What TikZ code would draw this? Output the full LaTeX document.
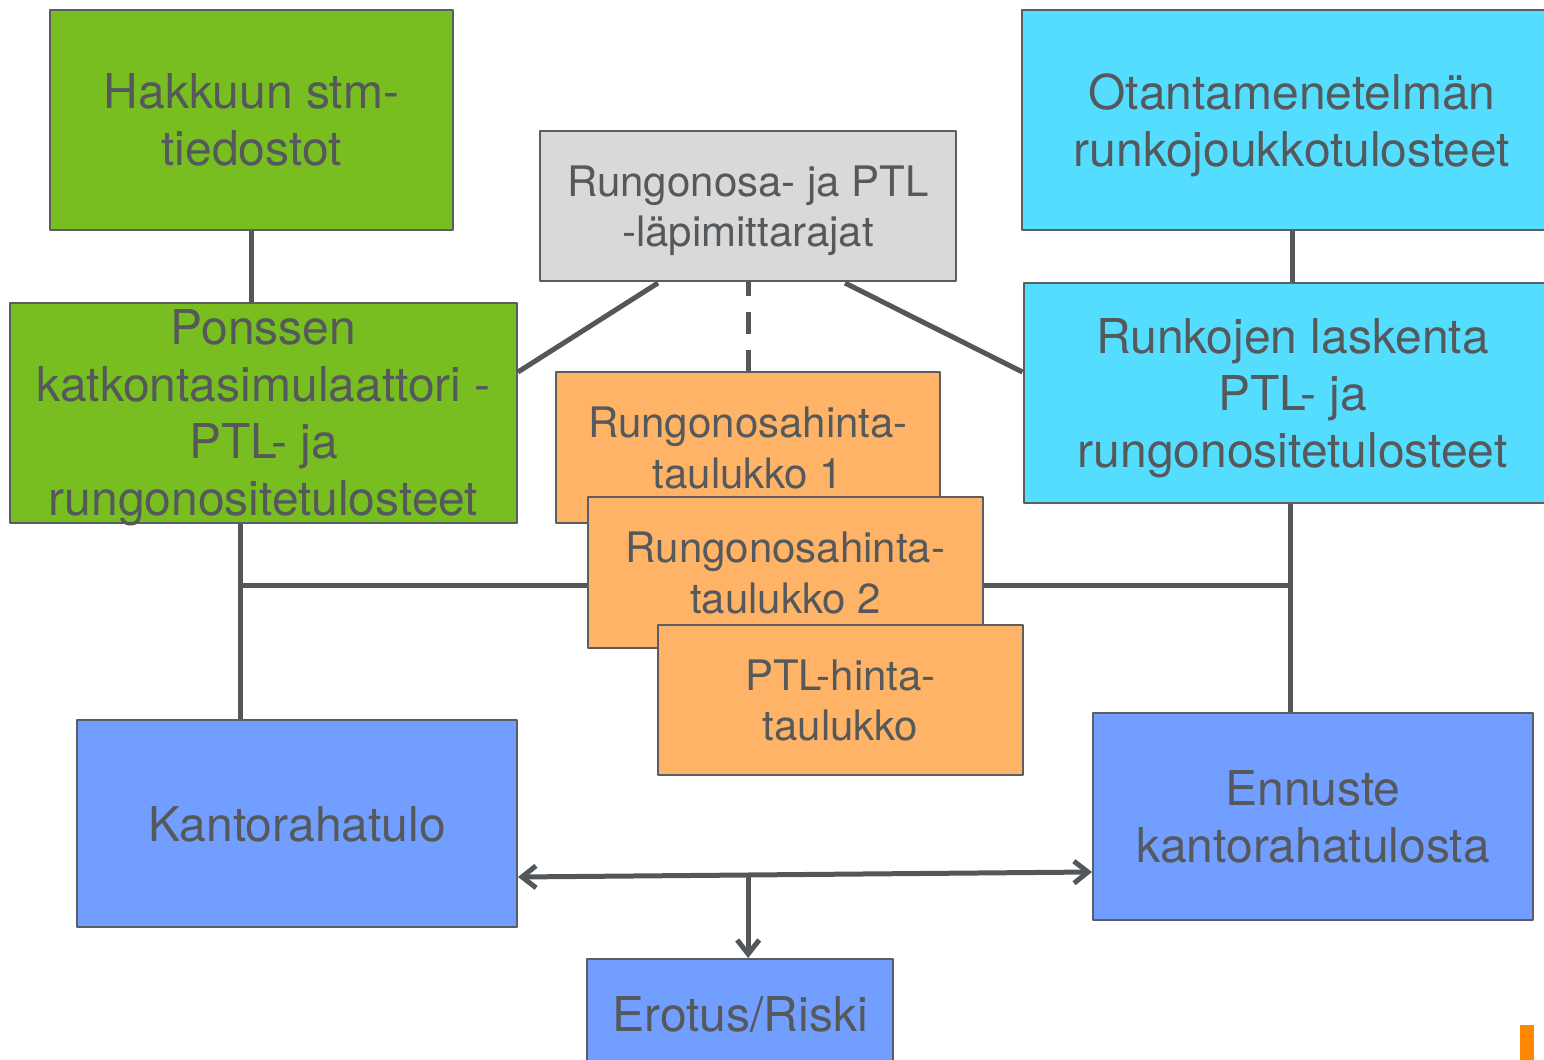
\documentclass[tikz,border=0pt]{standalone}
\usepackage{fontspec}
\setmainfont{TeX Gyre Heros}
\usetikzlibrary{arrows.meta,calc}
\definecolor{boxgreen}{HTML}{78BE20}
\definecolor{boxcyan}{HTML}{55DDFF}
\definecolor{boxorange}{HTML}{FFB366}
\definecolor{boxblue}{HTML}{719EFF}
\definecolor{boxgray}{HTML}{D9D9D9}
\definecolor{edgegray}{HTML}{5A5E62}
\definecolor{linegray}{HTML}{53575A}
\definecolor{textgray}{HTML}{55595C}
\definecolor{logoorange}{HTML}{FF8800}
\newcommand{\bigtxt}{\fontsize{24}{28.5}\selectfont}
\newcommand{\smalltxt}{\fontsize{21}{25.3}\selectfont}
\tikzset{barb/.tip={Straight Barb[length=7pt,width=11pt]}}

\begin{document}
\begin{tikzpicture}[x=0.5pt,y=-0.5pt,line join=round,
  box/.style={draw=edgegray,line width=1pt,inner sep=0pt,align=center,text depth=0pt,text=textgray,font=\bigtxt},
  greenbox/.style={box,fill=boxgreen},
  cyanbox/.style={box,fill=boxcyan},
  graybox/.style={box,fill=boxgray,font=\smalltxt},
  orangebox/.style={box,fill=boxorange,font=\smalltxt},
  bluebox/.style={box,fill=boxblue},
  conn/.style={draw=linegray,line width=2.5pt}]
\useasboundingbox (0,0) rectangle (1544,1060);
% source boxes
\node[greenbox,minimum width=201.5pt,minimum height=110pt] (hakkuu) at (251.5,120) {Hakkuun stm-\\tiedostot};
\node[greenbox,minimum width=253.5pt,minimum height=110pt] (ponsse) at (263.5,413) {Ponssen\\katkontasimulaattori -\\PTL- ja\\rungonositetulosteet};
\node[graybox,minimum width=208pt,minimum height=75pt] (rajat) at (748,206) {Rungonosa- ja PTL\\-läpimittarajat};
\node[cyanbox,minimum width=270pt,minimum height=110pt] (otanta) at (1292,120) {Otantamenetelmän\\runkojoukkotulosteet};
\node[cyanbox,minimum width=269pt,minimum height=110pt] (runkojen) at (1292.5,393) {Runkojen laskenta\\PTL- ja\\rungonositetulosteet};
% price tables
\node[orangebox,minimum width=192pt,minimum height=75.5pt] (taulu1) at (748,447.5) {Rungonosahinta-\\taulukko 1};
\node[orangebox,minimum width=197.5pt,minimum height=75.5pt] (taulu2) at (785.5,572.5) {Rungonosahinta-\\taulukko 2};
\node[orangebox,minimum width=182.5pt,minimum height=75pt] (ptlhinta) at (840.5,700) {PTL-hinta-\\taulukko};
% results
\node[bluebox,minimum width=220pt,minimum height=103.5pt] (kantoraha) at (297,823.5) {Kantorahatulo};
\node[bluebox,minimum width=220pt,minimum height=103.5pt] (ennuste) at (1313,816.5) {Ennuste\\kantorahatulosta};
\node[bluebox,minimum width=153pt,minimum height=55pt] (erotus) at (740,1014) {Erotus/Riski};
% connectors
\draw[conn] (hakkuu.south) -- (hakkuu.south |- ponsse.north);
\draw[conn] (otanta.south) -- (otanta.south |- runkojen.north);
\draw[conn] ($(rajat.south)+(-90,1)$) -- ($(ponsse.east)+(0,-41)$);
\draw[conn] ($(rajat.south)+(97,1)$) -- ($(runkojen.west)+(0,-21)$);
\draw[conn,dash pattern=on 11pt off 8pt,dash phase=4pt] (rajat.south) -- (taulu1.north);
\coordinate (lj) at (240,585);
\coordinate (rj) at (1290,585);
\draw[conn] (ponsse.south -| lj) -- (kantoraha.north -| lj);
\draw[conn] (lj) -- (lj -| taulu2.west);
\draw[conn] (runkojen.south -| rj) -- (ennuste.north -| rj);
\draw[conn] (taulu2.east |- rj) -- (rj);
\coordinate (al) at ($(kantoraha.east)+(0,53.5)$);
\coordinate (ar) at ($(ennuste.west)+(0,55.5)$);
\coordinate (am) at ($(al)!0.401!(ar)$);
\draw[conn,barb-barb] (al) -- (ar);
\draw[conn,-barb] (am) -- (am |- erotus.north);
% logo fragment
\fill[logoorange] (1520,1025) rectangle (1534,1060);
\end{tikzpicture}
\end{document}
